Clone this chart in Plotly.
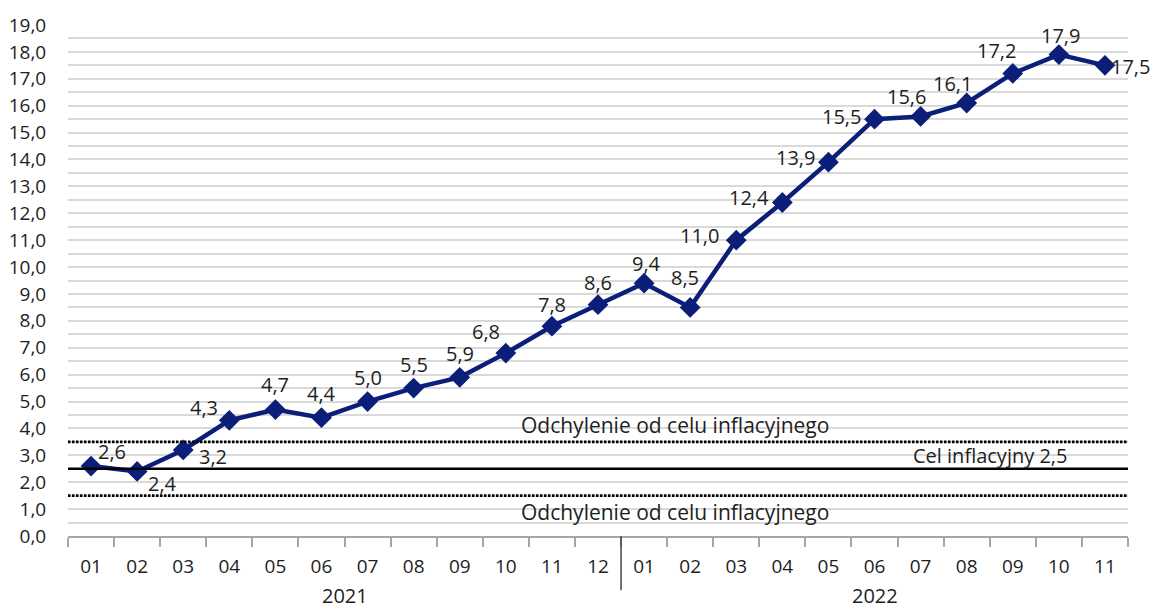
import plotly.graph_objects as go

years = ["2021"] * 12 + ["2022"] * 11
months = ["01", "02", "03", "04", "05", "06", "07", "08", "09", "10", "11", "12",
          "01", "02", "03", "04", "05", "06", "07", "08", "09", "10", "11"]
cpi = [2.6, 2.4, 3.2, 4.3, 4.7, 4.4, 5.0, 5.5, 5.9, 6.8, 7.8, 8.6,
       9.4, 8.5, 11.0, 12.4, 13.9, 15.5, 15.6, 16.1, 17.2, 17.9, 17.5]
target = 2.5
upper_band = 3.5
lower_band = 1.5

# label offsets in pixels (style only): right / down from the point
label_dx = [21, 25, 30, -25, 0, 0, 0, 0, 0, -20, 0, 0,
            2, -5, -37, -33, -33, -33, -14, -14, -16, 2, 26]
label_dy = [-15, 12, 7, -13, -25, -24, -24, -24, -24, -22, -22, -22,
            -20, -30, -5, -5, -5, -3, -20, -19, -23, -19, 1]

FONT = "Open Sans"
NAVY = "#0B1F78"
TXT = "#1e1e1e"
GRID = "#d9d9d9"

idx = list(range(len(cpi)))
year_names = []
for yname in years:
    if yname not in year_names:
        year_names.append(yname)
year_centers = [sum(i for i in idx if years[i] == yn) / years.count(yn) for yn in year_names]
split_x = years.index(year_names[1]) - 0.5

fig = go.Figure()
fig.add_trace(go.Scatter(
    x=idx, y=cpi,
    mode="lines+markers",
    line=dict(color=NAVY, width=4.5),
    marker=dict(symbol="diamond", size=16, color=NAVY),
    cliponaxis=False,
    showlegend=False,
))

for i, v in enumerate(cpi):
    fig.add_annotation(xref="x", yref="y", x=idx[i], y=v,
                       xshift=label_dx[i], yshift=-label_dy[i],
                       text=f"{v:.1f}".replace(".", ","), showarrow=False,
                       xanchor="center", yanchor="middle",
                       font=dict(family=FONT, size=20, color=TXT))

for yv, dash in [(upper_band, "2.5px,1.5px"), (target, "solid"), (lower_band, "2.5px,1.5px")]:
    fig.add_shape(type="line", xref="paper", yref="y", x0=0, x1=1, y0=yv, y1=yv,
                  line=dict(color="#000000", width=2.7, dash=dash), layer="above")

# group separator between years
fig.add_shape(type="line", xref="x", yref="paper", x0=split_x, x1=split_x, y0=0, y1=-0.106,
              line=dict(color="#444444", width=1.5))

for yn, xc in zip(year_names, year_centers):
    fig.add_annotation(xref="x", yref="paper", x=xc, y=-0.116, yanchor="middle",
                       xanchor="center", text=yn, showarrow=False,
                       font=dict(family=FONT, size=20, color=TXT))

fig.add_annotation(xref="paper", yref="y", x=0.573, y=upper_band, yshift=17,
                   xanchor="center", text="Odchylenie od celu inflacyjnego", showarrow=False,
                   font=dict(family=FONT, size=21, color=TXT))
fig.add_annotation(xref="paper", yref="y", x=0.573, y=lower_band, yshift=-16,
                   xanchor="center", text="Odchylenie od celu inflacyjnego", showarrow=False,
                   font=dict(family=FONT, size=21, color=TXT))
fig.add_annotation(xref="paper", yref="y", x=0.870, y=target, yshift=13,
                   xanchor="center", text="Cel inflacyjny 2,5", showarrow=False,
                   font=dict(family=FONT, size=20, color=TXT))

fig.update_layout(
    width=1151, height=602,
    margin=dict(l=60, r=31, t=17, b=74, autoexpand=False),
    plot_bgcolor="white", paper_bgcolor="white",
    separators=", ",
    font=dict(family=FONT, size=19, color=TXT),
    xaxis=dict(
        range=[-0.5, len(cpi) - 0.5], automargin=False,
        tickmode="array", tickvals=idx, ticktext=months,
        ticks="outside", ticklen=12, tickcolor="rgba(0,0,0,0)",
        minor=dict(tick0=-0.5, dtick=1, ticks="outside", ticklen=9,
                   tickcolor="#a6a6a6", tickwidth=1.5, showgrid=False),
        showline=True, linecolor="#a6a6a6", linewidth=1.5,
        showgrid=False, zeroline=False,
        tickfont=dict(family=FONT, size=19, color=TXT),
    ),
    yaxis=dict(
        range=[0, 19], dtick=1, tickformat=".1f", automargin=False,
        showgrid=True, gridcolor=GRID, gridwidth=1.5,
        minor=dict(dtick=0.5, showgrid=True, gridcolor=GRID, gridwidth=1.5),
        zeroline=False, showline=False,
        ticks="outside", ticklen=17, tickcolor="rgba(0,0,0,0)",
        tickfont=dict(family=FONT, size=19, color=TXT),
    ),
)

fig.write_html("out.html")
